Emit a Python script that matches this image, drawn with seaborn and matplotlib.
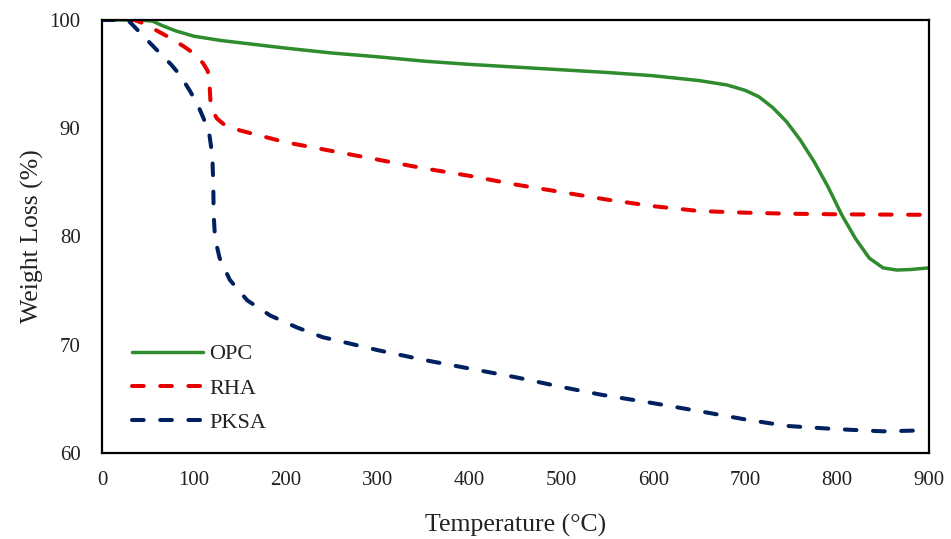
import matplotlib
matplotlib.use("Agg")
import matplotlib.pyplot as plt
import seaborn as sns
import pandas as pd

# Thermogravimetric curves: temperature (°C) vs remaining weight (%)
opc_temp = [0, 40, 55, 65, 80, 100, 130, 160, 200, 250, 300, 350, 400, 450, 500,
            550, 600, 650, 680, 700, 715, 730, 745, 760, 775, 790, 805, 820, 835,
            850, 865, 880, 900]
opc_weight = [100, 100, 99.9, 99.5, 99.0, 98.5, 98.1, 97.8, 97.4, 96.95, 96.6, 96.2,
              95.9, 95.65, 95.4, 95.15, 94.85, 94.4, 94.0, 93.5, 92.9, 91.9, 90.6,
              88.9, 86.9, 84.6, 82.0, 79.8, 78.0, 77.1, 76.9, 76.95, 77.1]

rha_temp = [0, 35, 45, 60, 75, 90, 100, 110, 115, 117, 118, 121, 125, 132, 150, 200,
            250, 300, 350, 400, 450, 500, 550, 600, 650, 700, 750, 800, 900]
rha_weight = [100, 100, 99.7, 99.0, 98.3, 97.5, 96.9, 96.0, 95.3, 94.0, 92.5, 91.5,
              90.9, 90.4, 89.8, 88.7, 87.9, 87.1, 86.3, 85.6, 84.8, 84.1, 83.4, 82.8,
              82.35, 82.2, 82.1, 82.05, 82.0]

pksa_temp = [0, 28, 35, 45, 60, 75, 85, 96, 105, 112, 117, 120, 121, 121.5, 123, 128,
             139, 158, 183, 212, 240, 300, 350, 400, 450, 500, 542, 600, 654, 700,
             745, 800, 850, 900]
pksa_weight = [100, 100, 99.4, 98.5, 97.2, 95.9, 94.9, 93.4, 92.0, 90.6, 89.3, 87.5,
               85.0, 82.0, 79.8, 78.0, 76.0, 74.1, 72.7, 71.6, 70.7, 69.5, 68.6, 67.8,
               67.0, 66.1, 65.4, 64.6, 63.8, 63.1, 62.5, 62.2, 62.0, 62.1]

x_ticks = [0, 100, 200, 300, 400, 500, 600, 700, 800, 900]
y_ticks = [60, 70, 80, 90, 100]

sns.set_theme(style="white")
plt.rcParams["font.family"] = ["Liberation Serif", "DejaVu Serif"]

fig = plt.figure(figsize=(9.51, 5.39), dpi=100)
ax = fig.add_axes([0.1073, 0.1596, 0.8696, 0.8033])

dash = (0, (2.9, 4.1))
series = [
    ("OPC", opc_temp, opc_weight, "#2E8B2E", "-", 2.5),
    ("RHA", rha_temp, rha_weight, "#E80000", dash, 2.9),
    ("PKSA", pksa_temp, pksa_weight, "#002060", dash, 2.9),
]
for name, xs, ys, color, ls, lw in series:
    df = pd.DataFrame({"Temperature": xs, "Weight": ys})
    sns.lineplot(data=df, x="Temperature", y="Weight", ax=ax, color=color,
                 linestyle=ls, linewidth=lw, estimator=None, sort=False,
                 label=name, dash_capstyle="round", solid_capstyle="round")

ax.set_xlim(0, 900)
ax.set_ylim(60, 100)
ax.set_xticks(x_ticks)
ax.set_yticks(y_ticks)
ax.tick_params(axis="both", direction="in", length=5, width=1.2, colors="black",
               labelsize=15, labelcolor="#222222")
ax.tick_params(axis="x", pad=13)
ax.tick_params(axis="y", pad=15.5)
for s in ax.spines.values():
    s.set_color("black")
    s.set_linewidth(1.6)

ax.set_xlabel("Temperature (°C)", fontsize=18.5, color="#222222", labelpad=17)
ax.set_ylabel("Weight Loss (%)", fontsize=18.5, color="#222222", labelpad=4)

leg = ax.legend(loc="lower left", bbox_to_anchor=(0.012, 0.0), frameon=False,
                fontsize=16, handlelength=3.2, handletextpad=0.27, labelspacing=0.62)
for t in leg.get_texts():
    t.set_color("#222222")

fig.savefig("out.png", dpi=100)
